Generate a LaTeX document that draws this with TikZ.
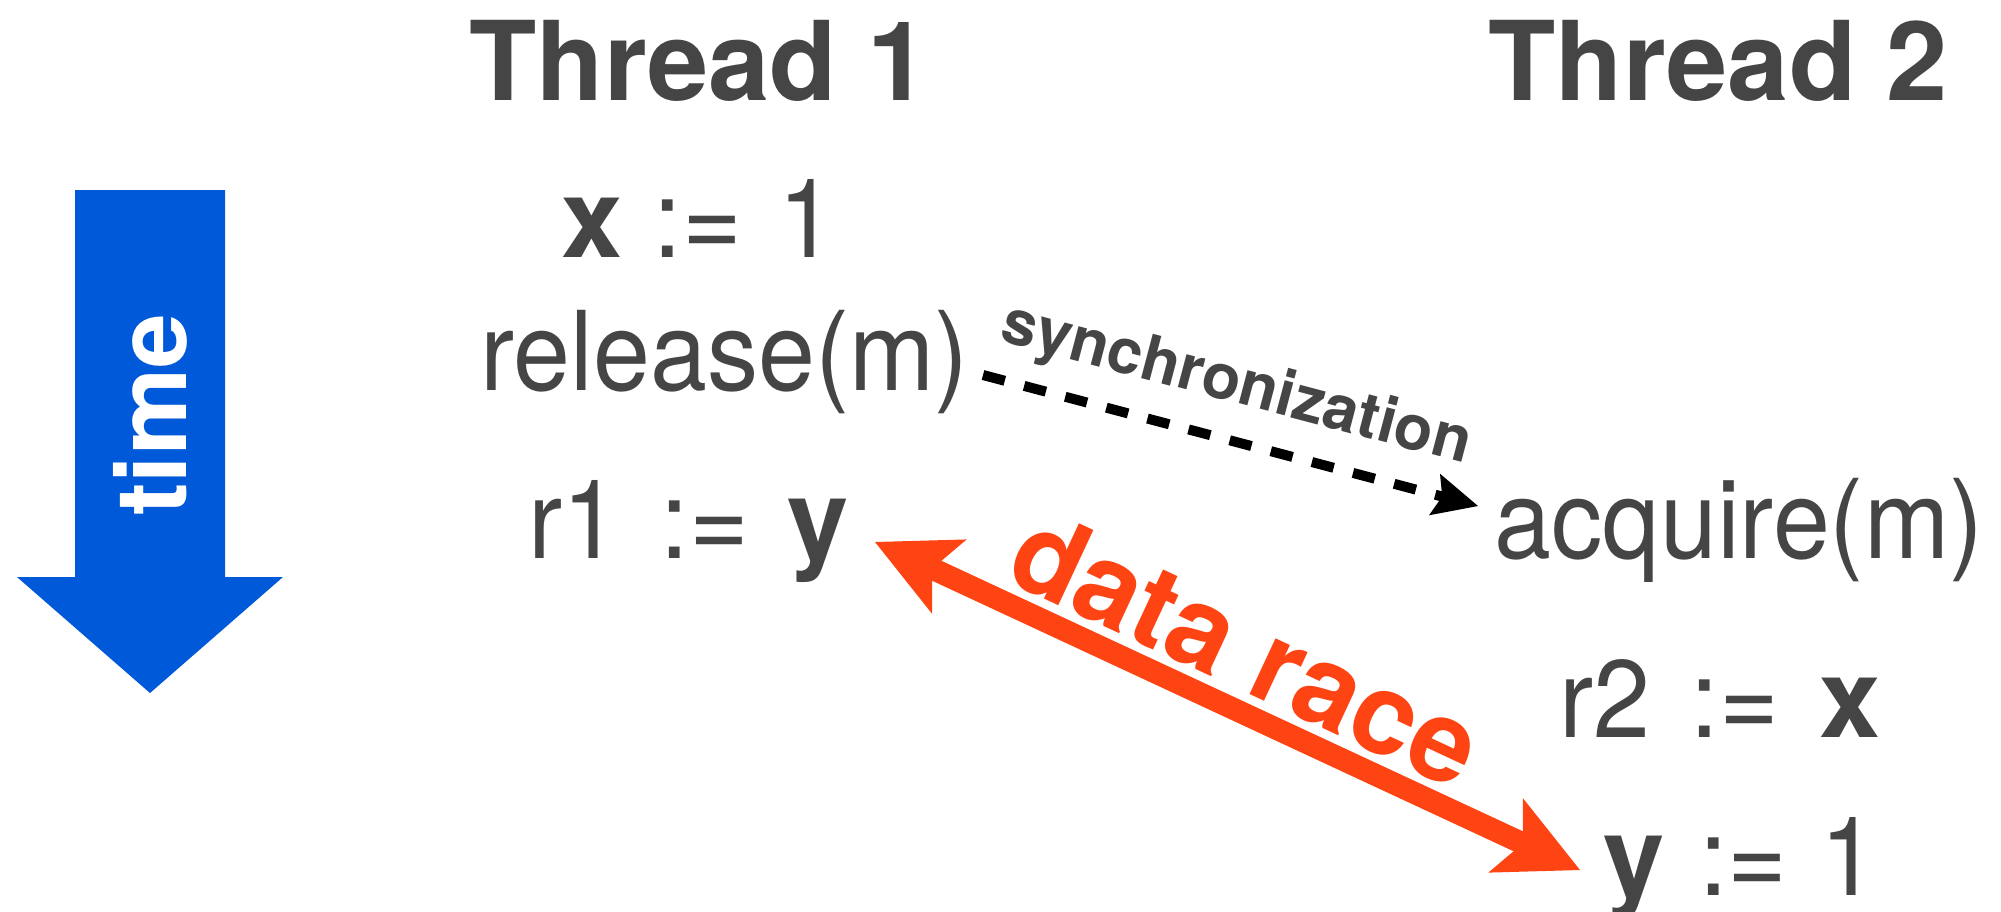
\documentclass[tikz,border=0pt]{standalone}
\usepackage{fontspec}
\usepackage{graphicx}
\setmainfont{TeX Gyre Heros}
\newfontfamily\codefont{TeX Gyre Heros}[FakeStretch=0.93]
\usetikzlibrary{arrows.meta}
\definecolor{ink}{RGB}{69,69,69}
\definecolor{raceorange}{RGB}{255,68,20}
\definecolor{timeblue}{RGB}{0,89,217}
\newcommand\bvar[1]{{\normalfont\bfseries #1}}

\begin{document}
\begin{tikzpicture}[x=0.01cm,y=-0.01cm,
  header/.style={anchor=base west, inner sep=0pt, text=ink,
    font=\fontsize{31.3}{36}\selectfont\bfseries},
  stmt/.style={anchor=base west, inner sep=0pt, text=ink,
    font=\fontsize{31.3}{36}\selectfont\codefont},
  timelabel/.style={anchor=base, inner sep=0pt, text=white, rotate=90,
    font=\fontsize{27.9}{32}\selectfont\bfseries},
  synclabel/.style={anchor=base, inner sep=0pt, text=ink, rotate=-14.8,
    font=\fontsize{17.9}{21}\selectfont\bfseries},
  racelabel/.style={anchor=center, inner sep=0pt, text=raceorange,
    font=\fontsize{32.4}{37}\selectfont\bfseries},
  syncline/.style={line width=0.1cm, dash pattern=on 0.225cm off 0.2cm,
    -{Stealth[length=0.45cm, width=0.43cm, inset=0.08cm, line width=0pt]}},
  racearrow/.style={line width=0.22cm, raceorange,
    {Stealth[length=0.82cm, width=0.82cm, inset=0.19cm, line width=0pt]}-{Stealth[length=0.82cm, width=0.82cm, inset=0.19cm, line width=0pt]}}
]
\useasboundingbox (0,0) rectangle (2001,911);

% time axis
\fill[timeblue] (75,190) -- (225,190) -- (225,577) -- (283,577)
  -- (150,693) -- (17,577) -- (75,577) -- cycle;
\node[timelabel] (time) at (186,415) {time};

% thread headers
\node[header] (t1) at (469,100) {Thread 1};
\node[header] (t2) at (1488,100) {Thread 2};

% thread 1
\node[stmt] (wx)  at (561,257) {\bvar{x}\hspace{0.31cm}:=\hspace{0.36cm}1};
\node[stmt] (rel) at (480,390) {release(m)};
\node[stmt] (ry)  at (528,558) {r1\hspace{0.41cm}:=\hspace{0.38cm}\bvar{y}};

% thread 2
\node[stmt] (acq) at (1494,558) {acquire(m)};
\node[stmt] (rx)  at (1559,737) {r2\hspace{0.40cm}:=\hspace{0.40cm}\bvar{x}};
\node[stmt] (wy)  at (1603,895) {\bvar{y}\hspace{0.345cm}:=\hspace{0.325cm}1};

% synchronization edge
\coordinate (syncFrom) at (983,375);
\coordinate (syncTo) at (1478,506);
\draw[syncline] (syncFrom) -- (syncTo);
\node[synclabel] (syncl) at (1232,402) {synchronization};

% data race edge
\coordinate (raceA) at (875,542);
\coordinate (raceB) at (1580,870);
\draw[racearrow] (raceA) -- (raceB);
\node[racelabel] (racel) at (1247,648) {\rotatebox{-25}{data race}};
\end{tikzpicture}
\end{document}
